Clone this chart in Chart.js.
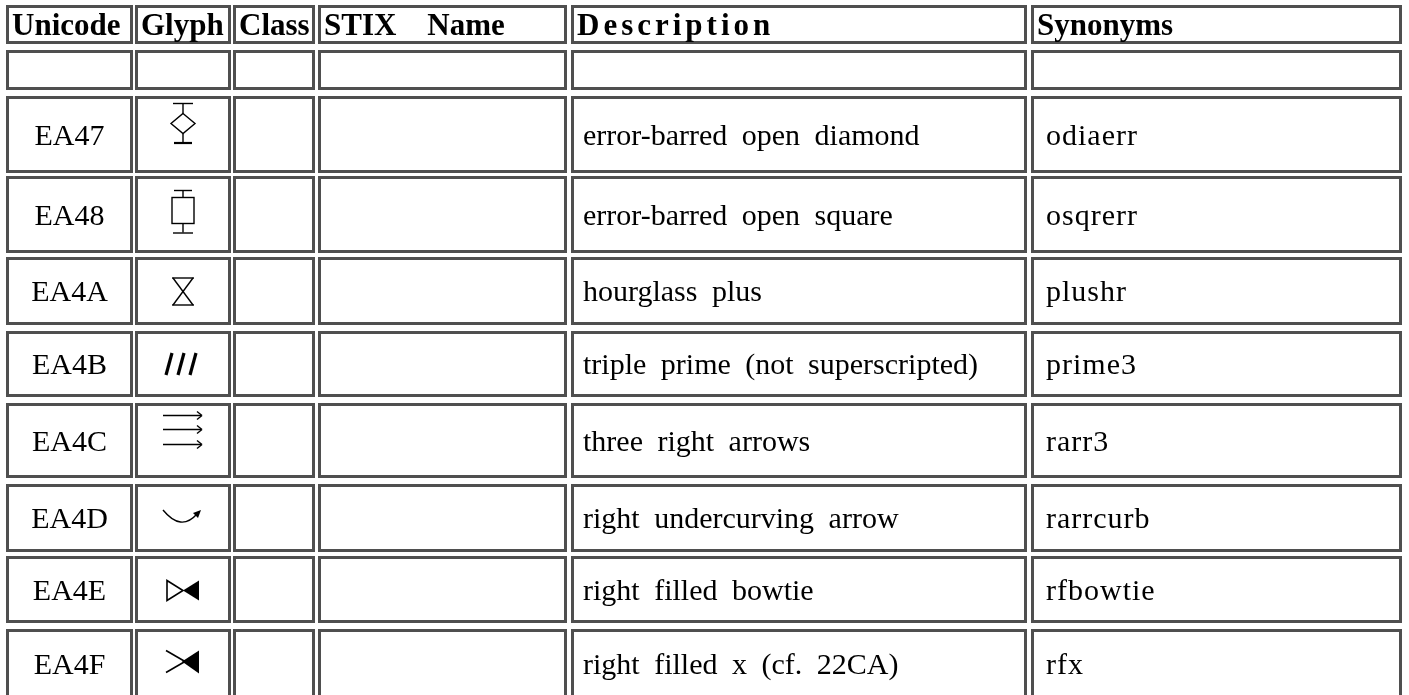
<!DOCTYPE html>
<html>
<head>
<meta charset="utf-8">
<title>STIX private use glyphs</title>
<script src="https://cdn.jsdelivr.net/npm/chart.js@4.4.0/dist/chart.umd.min.js"></script>
<style>
  html, body { margin: 0; padding: 0; background: #fff; }
  #wrap { width: 1409px; height: 695px; }
</style>
</head>
<body>
<div id="wrap"><canvas id="glyphTable"></canvas></div>
<script>
// table content
const headers = ['Unicode', 'Glyph', 'Class', 'STIX\u00a0\u00a0\u00a0\u00a0Name', 'Description', 'Synonyms'];
const codes = ['', 'EA47', 'EA48', 'EA4A', 'EA4B', 'EA4C', 'EA4D', 'EA4E', 'EA4F'];
const classes = ['', '', '', '', '', '', '', '', ''];
const stixNames = ['', '', '', '', '', '', '', '', ''];
const descriptions = [
  '',
  'error-barred open diamond',
  'error-barred open square',
  'hourglass plus',
  'triple prime (not superscripted)',
  'three right arrows',
  'right undercurving arrow',
  'right filled bowtie',
  'right filled x (cf. 22CA)'
];
const synonyms = ['', 'odiaerr', 'osqrerr', 'plushr', 'prime3', 'rarr3', 'rarrcurb', 'rfbowtie', 'rfx'];

// layout of the table (pixel units of the hidden scales)
const colEdges = [[6, 133], [135, 231], [233, 315], [318, 567], [571, 1027], [1031, 1402]];
const rowEdges = [[5, 44], [50, 90], [96, 173], [176, 253], [257, 325], [331, 397],
                  [403, 478], [484, 552], [556, 623], [629, 698]];

const BORDER = '#4f4f4f';
const SERIF = '"Liberation Serif", "Times New Roman", serif';

// little vector drawings for the private-use glyphs (no font has them)
function line(ctx, x1, y1, x2, y2) {
  ctx.beginPath(); ctx.moveTo(x1, y1); ctx.lineTo(x2, y2); ctx.stroke();
}
function poly(ctx, pts, fill) {
  ctx.beginPath();
  ctx.moveTo(pts[0][0], pts[0][1]);
  for (let i = 1; i < pts.length; i++) ctx.lineTo(pts[i][0], pts[i][1]);
  ctx.closePath();
  if (fill) ctx.fill(); else ctx.stroke();
}

const glyphDrawers = {
  EA47(ctx, x, y) {
    line(ctx, x - 10, y - 31, x + 10, y - 31);
    line(ctx, x, y - 31, x, y - 21);
    poly(ctx, [[x, y - 21], [x + 12, y - 11], [x, y - 1], [x - 12, y - 11]]);
    line(ctx, x, y - 1, x, y + 8);
    ctx.lineWidth = 2.2;
    line(ctx, x - 9, y + 8.5, x + 9, y + 8.5);
  },
  EA48(ctx, x, y) {
    line(ctx, x - 9, y - 24, x + 9, y - 24);
    line(ctx, x, y - 24, x, y - 17);
    ctx.strokeRect(x - 11, y - 17, 22, 26);
    line(ctx, x, y + 9, x, y + 18);
    line(ctx, x - 10, y + 18.5, x + 10, y + 18.5);
  },
  EA4A(ctx, x, y) {
    line(ctx, x - 11, y - 13, x + 11, y - 13);
    line(ctx, x - 10, y - 13, x + 10, y + 14);
    line(ctx, x + 10, y - 13, x - 10, y + 14);
    line(ctx, x - 11, y + 14, x + 11, y + 14);
  },
  EA4B(ctx, x, y) {
    ctx.lineWidth = 3.2;
    [[-11, -17], [1, -5], [13, 7]].forEach(([t, b]) => line(ctx, x + t, y - 11, x + b, y + 11));
  },
  EA4C(ctx, x, y) {
    [-25, -11, 4].forEach(dy => {
      line(ctx, x - 20, y + dy, x + 18, y + dy);
      line(ctx, x + 19, y + dy, x + 14, y + dy - 4);
      line(ctx, x + 19, y + dy, x + 14, y + dy + 4);
    });
  },
  EA4D(ctx, x, y) {
    ctx.beginPath();
    ctx.moveTo(x - 20, y - 8);
    ctx.quadraticCurveTo(x - 2, y + 14, x + 14, y - 4);
    ctx.stroke();
    poly(ctx, [[x + 18, y - 8], [x + 10, y - 5], [x + 15, y + 0]], true);
  },
  EA4E(ctx, x, y) {
    ctx.lineWidth = 1.6;
    poly(ctx, [[x - 16, y - 9], [x, y + 1], [x - 16, y + 11]]);
    poly(ctx, [[x + 16, y - 9], [x, y + 1], [x + 16, y + 11]], true);
  },
  EA4F(ctx, x, y) {
    ctx.lineWidth = 1.6;
    line(ctx, x - 17, y - 13, x + 2, y - 2);
    line(ctx, x - 17, y + 9, x + 2, y - 2);
    poly(ctx, [[x + 16, y - 13], [x - 1, y - 2], [x + 16, y + 10]], true);
  }
};

// cell text and glyphs, placed from the bar elements
const cellText = {
  id: 'cellText',
  afterDatasetsDraw(chart) {
    const ctx = chart.ctx;
    chart.data.datasets.forEach((ds, c) => {
      const meta = chart.getDatasetMeta(c);
      meta.data.forEach((bar, r) => {
        const p = bar.getProps(['x', 'y', 'base', 'width'], true);
        const left = p.x - p.width / 2;
        const mid = (p.y + p.base) / 2;
        ctx.save();
        ctx.fillStyle = '#000';
        ctx.strokeStyle = '#000';
        ctx.textAlign = 'left';
        ctx.textBaseline = 'alphabetic';
        if (r === 0) {
          ctx.font = 'bold 31px ' + SERIF;
          if (c === 4) ctx.letterSpacing = '4px';
          ctx.fillText(headers[c], left + 6, mid + 10.5);
        } else {
          const k = r - 1; // content arrays start at the blank row
          ctx.font = '30px ' + SERIF;
          if (c === 0) {
            ctx.textAlign = 'center';
            ctx.fillText(codes[k], p.x, mid + 10);
          } else if (c === 1 && glyphDrawers[codes[k]]) {
            ctx.lineWidth = 1.4;
            glyphDrawers[codes[k]](ctx, p.x, mid);
          } else if (c === 2) {
            ctx.fillText(classes[k], left + 12, mid + 10);
          } else if (c === 3) {
            ctx.fillText(stixNames[k], left + 12, mid + 10);
          } else if (c === 4) {
            ctx.wordSpacing = '7px';
            ctx.fillText(descriptions[k], left + 12, mid + 10);
          } else if (c === 5) {
            ctx.letterSpacing = '1px';
            ctx.fillText(synonyms[k], left + 15, mid + 10);
          }
        }
        ctx.restore();
      });
    });
  }
};

function createTable() {
  const ctx = document.getElementById('glyphTable').getContext('2d');

  // one floating-bar dataset per column, one bar per row = one cell
  const datasets = colEdges.map(([x0, x1]) => ({
    data: rowEdges.map(([y0, y1]) => ({ x: (x0 + x1) / 2, y: [y0, y1] })),
    barThickness: x1 - x0,
    backgroundColor: '#ffffff',
    borderColor: BORDER,
    borderWidth: 3,
    borderSkipped: false,
    inflateAmount: 0,
    grouped: false
  }));

  new Chart(ctx, {
    type: 'bar',
    data: { datasets },
    options: {
      responsive: true,
      maintainAspectRatio: false,
      animation: false,
      events: [],
      layout: { padding: 0 },
      plugins: { legend: { display: false }, tooltip: { enabled: false } },
      scales: {
        x: { type: 'linear', min: 0, max: 1409, offset: false, display: false },
        y: { type: 'linear', min: 0, max: 695, reverse: true, display: false }
      }
    },
    plugins: [cellText]
  });
}

window.onload = createTable;
</script>
</body>
</html>
